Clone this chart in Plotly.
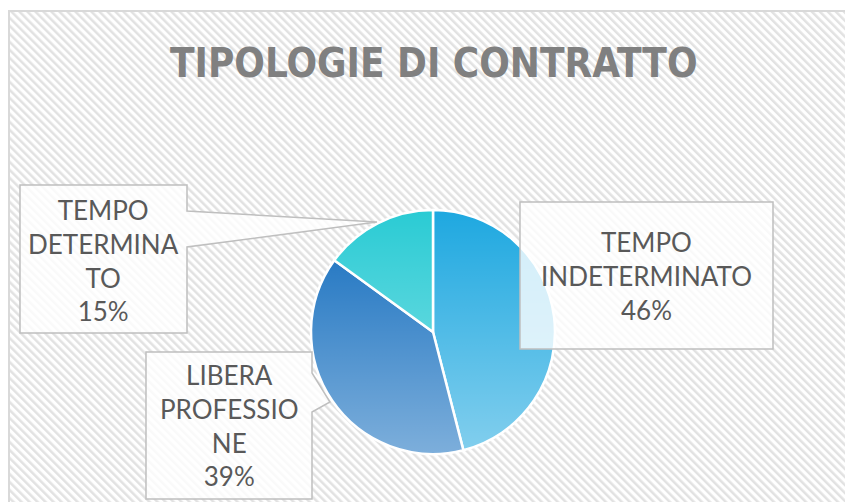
import base64
import plotly.graph_objects as go

# ---- data ----
categories = ["TEMPO INDETERMINATO", "LIBERA PROFESSIONE", "TEMPO DETERMINATO"]
label_lines = [["TEMPO", "INDETERMINATO"], ["LIBERA", "PROFESSIO", "NE"], ["TEMPO", "DETERMINA", "TO"]]
values = [46, 39, 15]
colors = ["#1EA8E0", "#136DBE", "#2ACBD4"]
title_text = "TIPOLOGIE DI CONTRATTO"

W, H = 845, 502
OX, OY = 0, 0


def px(x):
    return (x - OX) / W


def py(y):
    return 1 - (y - OY) / H


# pie geometry (pixels, page coordinates)
cx, cy, r = 433, 332, 122

fig = go.Figure()
fig.add_trace(go.Pie(
    labels=categories, values=values, sort=False, direction="clockwise", rotation=0,
    marker=dict(colors=colors, line=dict(color="white", width=2.5)),
    textinfo="none", hoverinfo="label+percent", showlegend=False,
    domain=dict(x=[px(cx - r), px(cx + r)], y=[py(cy + r), py(cy - r)]),
))

# hatched background
aw, ah = W - 9, H - 11
hatch_svg = (
    f"<svg xmlns='http://www.w3.org/2000/svg' width='{aw}' height='{ah}'>"
    "<defs><pattern id='p' width='5.66' height='5.66' patternUnits='userSpaceOnUse' "
    "patternTransform='rotate(-45)'><rect width='2.5' height='5.66' fill='#E2E2E2'/></pattern></defs>"
    "<rect width='100%' height='100%' fill='white'/>"
    "<rect width='100%' height='100%' fill='url(#p)'/></svg>"
)
hatch_uri = "data:image/svg+xml;base64," + base64.b64encode(hatch_svg.encode()).decode()

grad_svg = (
    f"<svg xmlns='http://www.w3.org/2000/svg' width='{2*r}' height='{2*r}'>"
    "<defs><linearGradient id='g' x1='0' y1='0' x2='0' y2='1'>"
    "<stop offset='0' stop-color='white' stop-opacity='0'/>"
    "<stop offset='1' stop-color='white' stop-opacity='0.45'/></linearGradient></defs>"
    f"<circle cx='{r}' cy='{r}' r='{r}' fill='url(#g)'/></svg>"
)
grad_uri = "data:image/svg+xml;base64," + base64.b64encode(grad_svg.encode()).decode()

images = [
    dict(source=hatch_uri, xref="paper", yref="paper", x=px(9), y=py(11),
         sizex=aw / W, sizey=ah / H, xanchor="left", yanchor="top",
         sizing="stretch", layer="below"),
    dict(source=grad_uri, xref="paper", yref="paper", x=px(cx - r), y=py(cy - r),
         sizex=2 * r / W, sizey=2 * r / H, xanchor="left", yanchor="top",
         sizing="stretch", layer="above"),
]


def path(points):
    return "M " + " L ".join(f"{px(x):.5f},{py(y):.5f}" for x, y in points) + " Z"


box_fill = "rgba(255,255,255,0.8)"
box_line = dict(color="#BFBFBF", width=1.5)
shapes = [
    # chart-area border
    dict(type="rect", xref="paper", yref="paper", x0=px(9), y0=py(11), x1=1.05, y1=-0.05,
         line=dict(color="#D9D9D9", width=2), fillcolor="rgba(0,0,0,0)", layer="below"),
    # right label box
    dict(type="path", xref="paper", yref="paper",
         path=path([(520, 202), (773, 202), (773, 349), (520, 349)]),
         fillcolor=box_fill, line=box_line),
    # bottom-left callout
    dict(type="path", xref="paper", yref="paper",
         path=path([(146, 352), (312, 352), (312, 373), (330, 402), (312, 412), (312, 499), (146, 499)]),
         fillcolor=box_fill, line=box_line),
    # top-left callout
    dict(type="path", xref="paper", yref="paper",
         path=path([(20, 185), (187, 185), (187, 211), (377, 222), (187, 247), (187, 333), (20, 333)]),
         fillcolor=box_fill, line=box_line),
]

total = sum(values)
label_pos = [(646, 276), (229, 425), (103, 260)]
annotations = []
for lines, v, (lx, ly) in zip(label_lines, values, label_pos):
    txt = "<br>".join(lines + [f"{v / total * 100:.0f}%"])
    annotations.append(dict(
        text=txt, xref="paper", yref="paper", x=px(lx), y=py(ly),
        xanchor="center", yanchor="middle", showarrow=False, align="center",
        font=dict(family="Lato", size=26, color="#595959"),
    ))

annotations.append(dict(
    text=f"<b>{title_text}</b>", xref="paper", yref="paper", x=px(434), y=py(63),
    xanchor="center", yanchor="middle", showarrow=False,
    font=dict(family="DejaVu Sans Condensed, DejaVu Sans, sans-serif", size=40,
              color="#808080"),
))

fig.update_layout(
    width=W, height=H, margin=dict(l=0, r=0, t=0, b=0),
    paper_bgcolor="white", plot_bgcolor="white",
    images=images, shapes=shapes, annotations=annotations,
)

fig.write_html(
    "out.html",
    config={"displayModeBar": False},
    post_script="document.body.style.margin='0';document.body.style.overflow='hidden';"
                "document.documentElement.style.overflow='hidden';",
)
